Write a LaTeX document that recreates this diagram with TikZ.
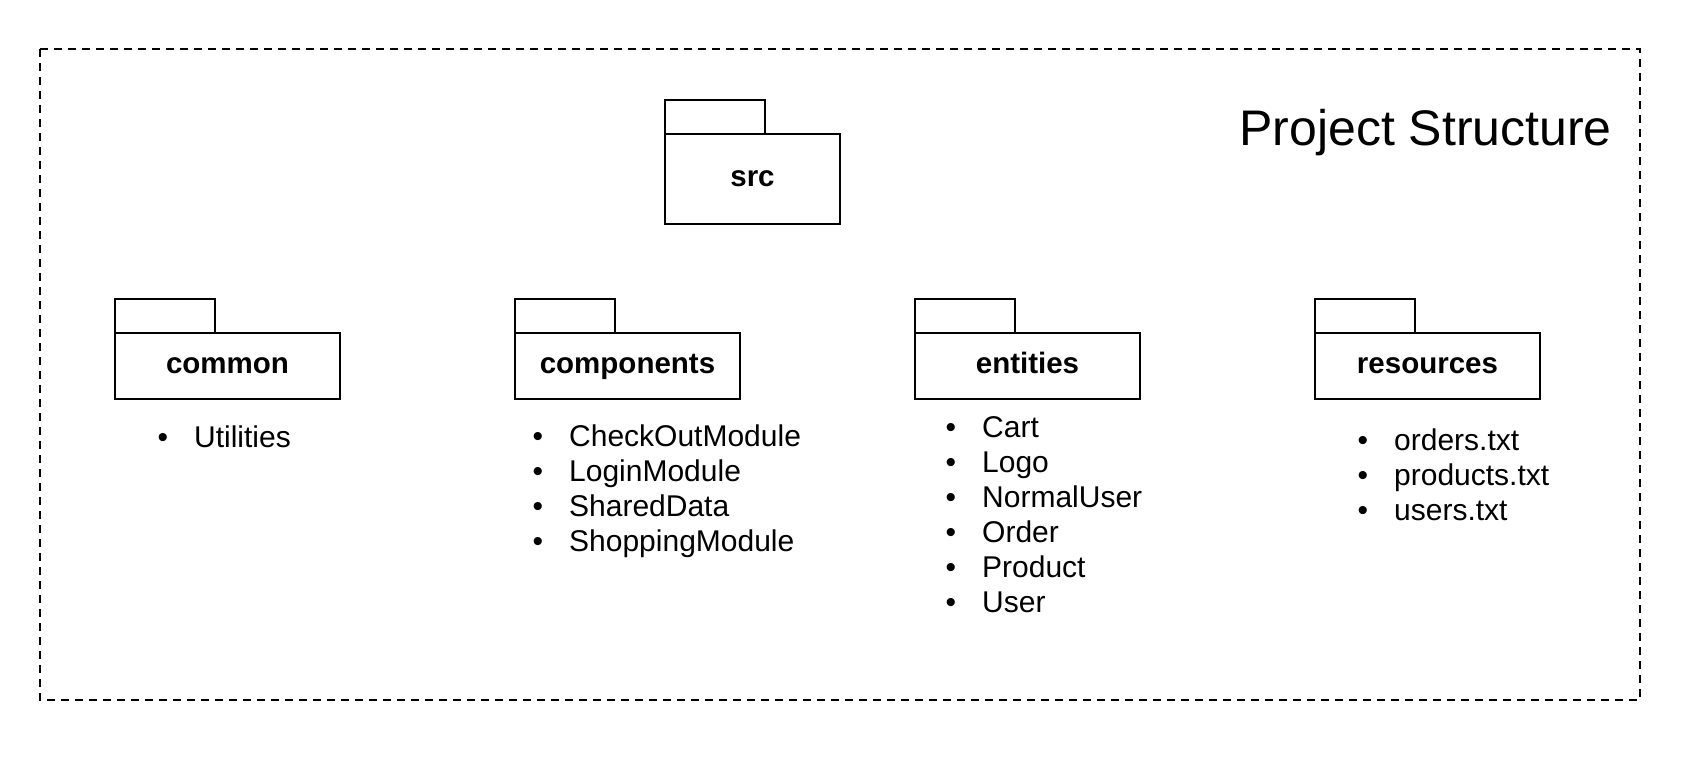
\documentclass[tikz,border=0pt]{standalone}
\usepackage{fontspec}
\setmainfont{Liberation Sans}

\begin{document}
\begin{tikzpicture}[x=1pt,y=-1pt,
    pkg/.style={draw,line width=2.2pt,outer sep=0pt,minimum width=225pt,minimum height=66pt,inner sep=0pt,
      text height=15.3pt,text depth=0pt,font=\bfseries\fontsize{29.5}{34}\selectfont},
    pkgtab/.style={draw,line width=2.2pt,outer sep=0pt,minimum width=100pt,minimum height=34pt,inner sep=0pt,anchor=south west},
    entry/.style={anchor=base west,inner sep=0pt,font=\fontsize{30}{35}\selectfont,
      execute at begin node={\llap{\textbullet\hspace{26pt}}}},
    frame/.style={line width=2pt,dash pattern=on 8pt off 6pt}]
      \useasboundingbox (0,0) rectangle (1684,770);
      \draw[frame] (40,49) rectangle (1640,700);
      \node[anchor=base east,inner sep=0pt,font=\fontsize{50}{57}\selectfont] (title) at (1612,146) {Project Structure};

      \node[pkg,minimum width=175pt,minimum height=90pt] (src) at (752.5,179) {src};
      \node[pkgtab] (srctab) at (src.north west) {};

      \node[pkg] (common) at ( 227.5,366) {common};
      \node[pkgtab] (commontab) at (common.north west) {};
      \node[pkg] (components) at ( 627.5,366) {components};
      \node[pkgtab] (componentstab) at (components.north west) {};
      \node[pkg] (entities) at (1027.5,366) {entities};
      \node[pkgtab] (entitiestab) at (entities.north west) {};
      \node[pkg] (resources) at (1427.5,366) {resources};
      \node[pkgtab] (resourcestab) at (resources.north west) {};

      \node[entry] (c0) at ( 194,447) {Utilities};

      \node[entry] (m0) at ( 569,446) {CheckOutModule};
      \node[entry] (m1) at ( 569,481) {LoginModule};
      \node[entry] (m2) at ( 569,516) {SharedData};
      \node[entry] (m3) at ( 569,551) {ShoppingModule};

      \node[entry] (e0) at ( 982,437) {Cart};
      \node[entry] (e1) at ( 982,472) {Logo};
      \node[entry] (e2) at ( 982,507) {NormalUser};
      \node[entry] (e3) at ( 982,542) {Order};
      \node[entry] (e4) at ( 982,577) {Product};
      \node[entry] (e5) at ( 982,612) {User};

      \node[entry] (r0) at (1394,450) {orders.txt};
      \node[entry] (r1) at (1394,485) {products.txt};
      \node[entry] (r2) at (1394,520) {users.txt};
    \end{tikzpicture}
\end{document}
